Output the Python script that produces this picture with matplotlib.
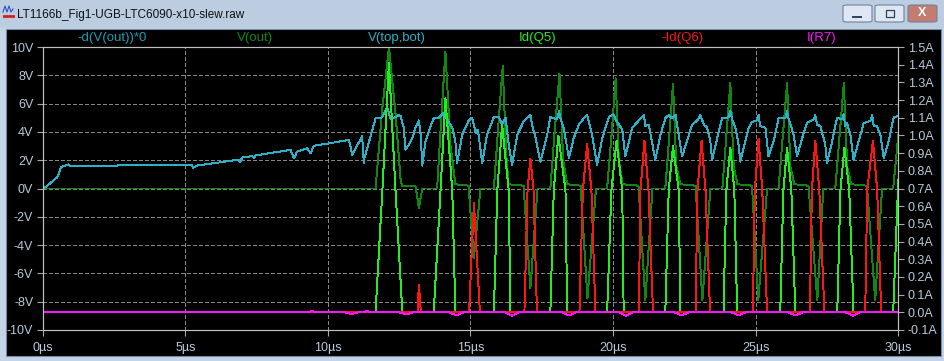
import matplotlib.pyplot as plt
from matplotlib.patches import Rectangle, FancyBboxPatch
from matplotlib.lines import Line2D

plt.rcParams['font.family'] = ['Liberation Sans', 'DejaVu Sans']

window_title = "LT1166b_Fig1-UGB-LTC6090-x10-slew.raw"

trace_names = ["-d(V(out))*0", "V(out)", "V(top,bot)", "Id(Q5)", "-Id(Q6)", "I(R7)"]
trace_colors = ["#1f9cb4", "#11870f", "#2bb0c8", "#20ee20", "#ff1414", "#ff14ff"]
label_x_px = [112, 255, 397, 538, 682, 822]

time_ticks = [0, 5, 10, 15, 20, 25, 30]
volt_ticks = [-10, -8, -6, -4, -2, 0, 2, 4, 6, 8, 10]
amp_ticks = [-0.1, 0.0, 0.1, 0.2, 0.3, 0.4, 0.5, 0.6, 0.7, 0.8, 0.9,
             1.0, 1.1, 1.2, 1.3, 1.4, 1.5]

# V(top,bot) [µs, V]
vtb_t = [0, 0.15, 0.33, 0.5, 0.56, 0.64, 0.8, 0.91, 0.95, 2.61, 2.63, 5.24, 5.27, 5.42,
         6.23, 6.88, 6.91, 7.0, 7.35, 7.4, 7.46, 8.1, 8.69, 8.81, 8.92, 9.27, 9.39, 9.51,
         9.98, 10.68, 10.74, 10.85, 11.2, 11.26, 11.28, 11.61, 11.67, 11.85, 11.9, 12.08,
         12.2, 12.31, 12.49, 12.55, 12.66, 12.72, 12.84, 12.96, 13.07, 13.19, 13.25, 13.31,
         13.42, 13.6, 13.71, 13.89, 14.07, 14.18, 14.36, 14.47, 14.53, 14.71, 14.94, 15.06,
         15.18, 15.26, 15.41, 15.58, 15.82, 15.99, 16.11, 16.23, 16.34, 16.46, 16.64, 16.87,
         17.1, 17.16, 17.28, 17.45, 17.57, 17.69, 17.8, 18.04, 18.1, 18.16, 18.27, 18.45,
         18.62, 18.8, 18.97, 19.09, 19.2, 19.26, 19.44, 19.62, 19.85, 20.02, 20.08, 20.2,
         20.32, 20.43, 20.67, 20.9, 21.08, 21.13, 21.25, 21.48, 21.66, 21.84, 21.95, 22.07,
         22.19, 22.42, 22.77, 22.95, 23.06, 23.18, 23.3, 23.41, 23.47, 23.65, 23.82, 23.94,
         24.05, 24.11, 24.17, 24.29, 24.4, 24.46, 24.58, 24.75, 24.87, 25.05, 25.1, 25.16,
         25.34, 25.45, 25.63, 25.8, 26.04, 26.1, 26.16, 26.33, 26.45, 26.63, 26.8, 27.03,
         27.09, 27.15, 27.27, 27.44, 27.5, 27.68, 27.85, 28.03, 28.08, 28.14, 28.2, 28.32,
         28.43, 28.61, 28.79, 29.02, 29.08, 29.14, 29.25, 29.37, 29.49, 29.66, 29.84, 30.0]
vtb_v = [0, 0.17, 0.49, 0.78, 1.02, 1.51, 1.63, 1.71, 1.56, 1.56, 1.63, 1.63, 1.46, 1.63,
         1.85, 2.05, 1.85, 2.2, 2.29, 2.15, 2.34, 2.54, 2.73, 2.12, 2.61, 2.85, 2.49, 3.02,
         3.17, 3.41, 3.45, 2.38, 3.69, 1.79, 2.14, 4.52, 4.95, 4.95, 5.05, 5.76,
         4.88, 5.0, 5.19, 5.12, 4.29, 2.74, 3.1, 3.57, 4.29, 4.81, 3.81, 1.62,
         3.33, 4.4, 4.95, 5.0, 5.36, 4.88, 4.29, 3.33, 1.79, 3.81, 4.81, 5.0,
         3.93, 4.17, 1.79, 3.81, 5.05, 5.05, 4.52, 5.0, 3.1, 1.67, 3.81, 4.76,
         5.19, 4.52, 3.57, 1.9, 2.86, 3.81, 5.05, 4.88, 5.48, 4.88, 4.29, 2.14,
         3.57, 4.52, 4.95, 5.19, 4.29, 3.81, 1.67, 3.57, 5.05, 5.24, 4.88, 4.52,
         4.17, 2.26, 4.29, 4.81, 5.19, 4.4, 4.52, 2.02, 3.81, 5.0, 5.19, 4.95,
         5.19, 2.26, 4.52, 4.81, 5.19, 4.52, 4.29, 3.33, 2.02, 3.57, 5.0, 4.95,
         5.05, 5.48, 4.88, 4.29, 3.1, 1.9, 2.86, 4.29, 4.71, 4.81, 5.19, 4.4,
         4.29, 2.26, 3.33, 4.95, 4.95, 5.48, 4.88, 3.81, 2.26, 3.57, 4.64, 4.88,
         5.19, 4.52, 4.4, 3.1, 1.79, 3.33, 5.0, 4.88, 5.24, 4.4, 4.64, 3.81,
         2.02, 3.33, 4.64, 4.76, 5.19, 4.4, 4.4, 3.81, 2.14, 3.33, 5.05, 5.12]

# V(out) [µs, V]
vout_t = [0, 11.67, 11.9, 12.14, 12.37, 12.55, 12.6, 13.07, 13.19, 13.31,
          13.83, 13.97, 14.12, 14.3, 14.47, 14.93, 15.12, 15.35,
          15.82, 15.97, 16.13, 16.25, 16.33, 16.86, 17.1, 17.35,
          17.8, 17.95, 18.12, 18.25, 18.39, 18.86, 19.1, 19.4,
          19.79, 19.95, 20.09, 20.2, 20.33, 20.89, 21.13, 21.38,
          21.83, 21.97, 22.1, 22.22, 22.36, 22.89, 23.13, 23.41,
          23.83, 23.97, 24.11, 24.23, 24.36, 24.87, 25.09, 25.4,
          25.8, 25.95, 26.1, 26.22, 26.36, 26.85, 27.16, 27.37,
          27.79, 27.94, 28.09, 28.21, 28.35, 28.9, 29.19, 29.43,
          29.82, 30.0]
vout_v = [0, 0, 5.5, 10.0, 5.3, 0.6, 0.2, 0.2, -1.35, 0,
          0, 4.8, 9.67, 3.0, 0.3, 0.2, -4.9, 0,
          0, 4.3, 8.65, 2.5, 0.3, 0.2, -7.05, 0,
          0, 4.0, 8.09, 2.0, 0.3, 0.2, -7.75, 0,
          0, 3.9, 7.78, 2.0, 0.3, 0.2, -7.9, 0,
          0, 3.7, 7.42, 1.5, 0.3, 0.2, -7.9, 0,
          0, 3.7, 7.45, 1.5, 0.3, 0.2, -7.9, 0,
          0, 3.7, 7.45, 1.5, 0.3, 0.2, -7.9, 0,
          0, 3.7, 7.45, 1.5, 0.3, 0.2, -7.9, 0,
          0, 3.75]

# Id(Q5) [µs, A]
idq5_t = [0, 11.67, 11.91, 12.14, 12.37, 12.61, 13.71, 13.95, 14.12, 14.36, 14.47,
          15.82, 15.94, 16.11, 16.34, 16.4, 17.8, 17.92, 18.08, 18.33, 18.39,
          19.79, 19.94, 20.12, 20.32, 20.37, 21.83, 21.95, 22.1, 22.3, 22.36,
          23.87, 23.97, 24.11, 24.25, 24.35, 25.86, 25.97, 26.1, 26.25, 26.39,
          27.86, 27.97, 28.11, 28.28, 28.43, 29.82, 30.0]
idq5_a = [0, 0, 0.69, 1.41, 0.69, 0, 0, 0.69, 1.21, 0.69, 0,
          0, 0.69, 1.06, 0.69, 0, 0, 0.69, 1.0, 0.69, 0,
          0, 0.69, 0.97, 0.69, 0, 0, 0.69, 0.94, 0.69, 0,
          0, 0.69, 0.93, 0.69, 0, 0, 0.69, 0.93, 0.69, 0,
          0, 0.69, 0.93, 0.69, 0, 0, 0.75]

# -Id(Q6) [µs, A]
idq6_t = [0, 13.14, 13.19, 13.26, 14.95, 15.12, 15.33,
          16.89, 17.0, 17.1, 17.21, 17.33, 18.82, 18.94, 19.09, 19.24, 19.38,
          20.9, 20.96, 21.1, 21.24, 21.4, 22.89, 22.96, 23.1, 23.24, 23.4,
          24.9, 24.97, 25.1, 25.23, 25.4, 26.9, 26.97, 27.09, 27.23, 27.41,
          28.84, 28.91, 29.11, 29.26, 29.4, 30.0]
idq6_a = [0, 0, 0.154, 0, 0, 0.62, 0,
          0, 0.69, 0.87, 0.69, 0, 0, 0.69, 0.95, 0.69, 0,
          0, 0.69, 0.97, 0.69, 0, 0, 0.69, 0.97, 0.69, 0,
          0, 0.69, 0.98, 0.69, 0, 0, 0.69, 0.97, 0.69, 0,
          0, 0.69, 0.97, 0.69, 0, 0]

# I(R7) [µs, A]
ir7_t = [0, 9.3, 9.45, 9.6, 10.6, 10.82, 11.05, 11.25, 11.38, 11.55,
         12.5, 12.76, 13.0, 14.25, 14.51, 14.75, 16.2, 16.45, 16.7,
         18.2, 18.45, 18.7, 20.2, 20.46, 20.7, 22.15, 22.4, 22.65,
         24.15, 24.39, 24.65, 26.15, 26.39, 26.65, 28.15, 28.41, 28.65, 30.0]
ir7_a = [0, 0, 0.007, 0, 0, -0.01, 0, 0, 0.007, 0,
         0, -0.012, 0, 0, -0.018, 0, 0, -0.02, 0,
         0, -0.018, 0, 0, -0.019, 0, 0, -0.018, 0,
         0, -0.017, 0, 0, -0.018, 0, 0, -0.019, 0, 0]

W, H = 945, 361


def fx(px):
    return px / W


def fy(py):
    return 1 - py / H


fig = plt.figure(figsize=(W / 100, H / 100), dpi=100, facecolor="#c4d4e8")

# window chrome (behind the axes)
fig.patches.append(Rectangle((0, fy(28)), 1, fy(0) - fy(28), transform=fig.transFigure,
                             facecolor="#bccde1", edgecolor="none", zorder=-2))
fig.patches.append(Rectangle((fx(6), fy(356)), fx(941) - fx(6), fy(29) - fy(356),
                             transform=fig.transFigure, facecolor="black",
                             edgecolor="#7a8aa0", linewidth=0.8, zorder=-1))
fig.text(fx(17), fy(15), window_title, fontsize=8.5, color="#101010", va="center", ha="left")

# small icon
fig.lines.append(Line2D([fx(3), fx(5), fx(7), fx(9), fx(11), fx(13)],
                        [fy(12), fy(6), fy(12), fy(6), fy(12), fy(9)],
                        transform=fig.transFigure, color="#3050c0", linewidth=0.8))
fig.lines.append(Line2D([fx(4), fx(7), fx(10), fx(13)], [fy(16)] * 4,
                        transform=fig.transFigure, color="#d02020", linestyle="none",
                        marker="s", markersize=1.2))

# title bar buttons
for bx, face in [(843, "#dfe8f2"), (875, "#dfe8f2"), (908, "#c27d70")]:
    fig.patches.append(FancyBboxPatch((fx(bx), fy(22)), fx(29), fy(5) - fy(22),
                                      boxstyle="round,pad=0,rounding_size=0.004",
                                      transform=fig.transFigure, facecolor=face,
                                      edgecolor="#6f82a0", linewidth=0.8))
fig.lines.append(Line2D([fx(853), fx(861)], [fy(17), fy(17)], transform=fig.transFigure,
                        color="#304060", linewidth=1.4))
fig.patches.append(Rectangle((fx(886), fy(17)), fx(8), fy(10) - fy(17), transform=fig.transFigure,
                             facecolor="none", edgecolor="#304060", linewidth=0.9))
fig.text(fx(922.5), fy(13.5), "X", fontsize=9, fontweight="bold", color="white",
         ha="center", va="center")

# plot axes
ax = fig.add_axes([fx(42.7), fy(330), fx(898.3) - fx(42.7), fy(47) - fy(330)])
ax.set_facecolor("black")
ax2 = ax.twinx()

lw = 0.7
ax.plot(vout_t, vout_v, color=trace_colors[1], linewidth=lw, antialiased=False)
ax.plot(vtb_t, vtb_v, color=trace_colors[2], linewidth=lw, antialiased=False)
ax2.plot(idq5_t, idq5_a, color=trace_colors[3], linewidth=lw, antialiased=False)
ax2.plot(idq6_t, idq6_a, color=trace_colors[4], linewidth=lw, antialiased=False)
ax2.plot(ir7_t, ir7_a, color=trace_colors[5], linewidth=lw, antialiased=False)

ax.set_xlim(0, 30)
ax.set_ylim(-10, 10)
ax2.set_ylim(-0.1, 1.5)

tick_color = "#b8cadc"
ax.set_xticks(time_ticks)
ax.set_xticklabels([f"{t}µs" for t in time_ticks])
ax.set_yticks(volt_ticks)
ax.set_yticklabels([f"{v}V" for v in volt_ticks])
ax2.set_yticks(amp_ticks)
ax2.set_yticklabels([f"{a:.1f}A" for a in amp_ticks])

ax.grid(True, color="#858585", linestyle=(0, (4, 3)), linewidth=0.7, antialiased=False)
ax.tick_params(axis="both", colors="#a8a8a8", labelcolor=tick_color, labelsize=9,
               length=4.3, width=0.8, pad=2.5)
ax.tick_params(axis="x", pad=4)
ax2.tick_params(axis="y", colors="#a8a8a8", labelcolor=tick_color, labelsize=9,
                length=4.3, width=0.8, pad=2.5)
for a in (ax, ax2):
    for s in a.spines.values():
        s.set_color("#c0c0c0")
        s.set_linewidth(0.8)

# trace labels
for name, col, lx in zip(trace_names, trace_colors, label_x_px):
    fig.text(fx(lx), fy(38), name, fontsize=9.5, color=col, ha="center", va="center")

fig.savefig("out.png", dpi=100, facecolor=fig.get_facecolor())
